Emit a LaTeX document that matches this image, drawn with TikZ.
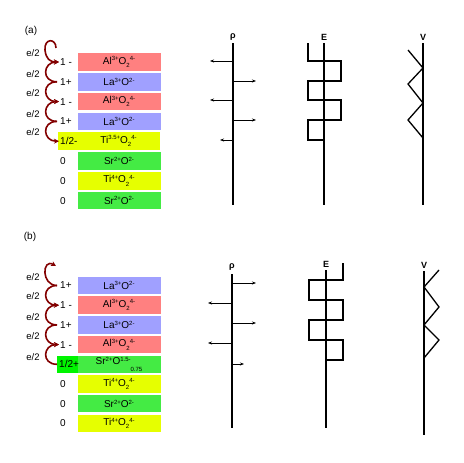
\documentclass[tikz,border=0pt]{standalone}
\usepackage{fontspec}
\setmainfont{Liberation Sans}
\usetikzlibrary{arrows.meta}
\definecolor{boxred}{RGB}{255,128,128}
\definecolor{boxblue}{RGB}{160,160,255}
\definecolor{boxyel}{RGB}{230,255,0}
\definecolor{boxgreen}{RGB}{68,235,68}
\definecolor{brightgreen}{RGB}{0,245,0}
\definecolor{arcred}{RGB}{130,0,0}
\newcommand\upx[1]{\raisebox{0.65ex}{\fontsize{6}{6}\selectfont #1}}
\newcommand\dnx[1]{\raisebox{-0.6ex}{\fontsize{6}{6}\selectfont #1}}
\begin{document}
\begin{tikzpicture}[x=1pt,y=-1pt,
  layer/.style={minimum width=83pt,minimum height=17.5pt,inner sep=0pt,font=\fontsize{10}{10}\selectfont},
  lab/.style={anchor=west,inner sep=0pt,font=\fontsize{10}{10}\selectfont},
  elab/.style={inner sep=0pt,font=\fontsize{9.5}{9.5}\selectfont},
  plab/.style={inner sep=0pt,font=\fontsize{10}{10}\selectfont},
  glab/.style={inner sep=0pt,font=\bfseries\fontsize{9}{9}\selectfont},
  hop/.style={draw=arcred,line width=1.6pt},
  hoptip/.style={hop,-{Stealth[length=5pt,width=5pt]}},
  axisline/.style={line width=1.3pt},
  profile/.style={line width=1.3pt,line join=miter},
  field/.style={line width=1pt,-{Stealth[length=4pt,width=3pt]}}]
\useasboundingbox (0,0) rectangle (463,463);

% ================= (a) =================
\node[plab] (ta) at (31,31) {(a)};
\node[layer,fill=boxred]  (a1) at (119,62)    {Al\upx{3+}O\dnx{2}\upx{4-}};
\node[layer,fill=boxblue] (a2) at (119,81.8)  {La\upx{3+}O\upx{2-}};
\node[layer,fill=boxred]  (a3) at (119,101.6) {Al\upx{3+}O\dnx{2}\upx{4-}};
\node[layer,fill=boxblue] (a4) at (119,121.4) {La\upx{3+}O\upx{2-}};
\node[layer,fill=boxyel,minimum width=102pt] (a5) at (109,141.2) {\hspace{19pt}Ti\upx{3.5+}O\dnx{2}\upx{4-}};
\node[layer,fill=boxgreen] (a6) at (119,161)   {Sr\upx{2+}O\upx{2-}};
\node[layer,fill=boxyel]   (a7) at (119,180.8) {Ti\upx{4+}O\dnx{2}\upx{4-}};
\node[layer,fill=boxgreen] (a8) at (119,200.6) {Sr\upx{2+}O\upx{2-}};

\node[lab] (q1) at (60,62)    {1 -};
\node[lab] (q2) at (60,81.8)  {1+};
\node[lab] (q3) at (60,101.6) {1 -};
\node[lab] (q4) at (60,121.4) {1+};
\node[lab] (q5) at (60,141.2) {1/2-};
\node[lab] (q6) at (60,161)   {0};
\node[lab] (q7) at (60,180.8) {0};
\node[lab] (q8) at (60,200.6) {0};

\node[elab] (e1) at (33,53)  {e/2};
\node[elab] (e2) at (33,74)  {e/2};
\node[elab] (e3) at (33,93)  {e/2};
\node[elab] (e4) at (33,114) {e/2};
\node[elab] (e5) at (33,132) {e/2};

\coordinate (h0) at (56,48);
\coordinate (h1) at (59,62);
\coordinate (h2) at (57,81.8);
\coordinate (h3) at (59,101.6);
\coordinate (h4) at (57,121.4);
\coordinate (h5) at (59,141.2);
\draw[hoptip] (h0) .. controls (56,38) and (44,38) .. (45,50) .. controls (46,59) and (50,62) .. (h1);
\draw[hoptip] (h2) .. controls +(-16,0) and +(-16,0) .. (h1);
\draw[hoptip] (h2) .. controls +(-16,0) and +(-16,0) .. (h3);
\draw[hoptip] (h4) .. controls +(-16,0) and +(-16,0) .. (h3);
\draw[hoptip] (h4) .. controls +(-16,0) and +(-16,0) .. (h5);

% rho (a)
\node[glab] (rhoa) at (233,37) {ρ};
\coordinate (ra0) at (233,43);
\coordinate (ra9) at (233,205);
\draw[axisline] (ra0) -- (ra9);
\coordinate (ra1) at (233,61);  \coordinate (rb1) at (210,61);
\coordinate (ra2) at (233,81);  \coordinate (rb2) at (256,81);
\coordinate (ra3) at (233,100); \coordinate (rb3) at (210,100);
\coordinate (ra4) at (233,120); \coordinate (rb4) at (256,120);
\coordinate (ra5) at (233,140); \coordinate (rb5) at (220,140);
\foreach \i in {1,...,5} \draw[field] (ra\i) -- (rb\i);

% E (a)
\node[glab] (Ea) at (324,37) {E};
\coordinate (ea0) at (324,43);
\coordinate (ea9) at (324,205);
\draw[axisline] (ea0) -- (ea9);
\coordinate (es) at (308,43);
\coordinate (ee) at (324,140);
\draw[profile] (es) -- (308,61) -- (341,61) -- (341,81) -- (308,81) -- (308,100) -- (341,100) -- (341,120) -- (308,120) -- (308,140) -- (ee);

% V (a)
\node[glab] (Va) at (423,37) {V};
\coordinate (va0) at (423,43);
\coordinate (va9) at (423,205);
\draw[axisline] (va0) -- (va9);
\coordinate (vs) at (408,50);
\coordinate (ve) at (423,138);
\draw[profile] (vs) -- (423,68) -- (408,84) -- (423,103) -- (408,120) -- (ve);

% ================= (b) =================
\node[plab] (tb) at (30,237) {(b)};
\node[layer,fill=boxblue] (b1) at (119,285.5) {La\upx{3+}O\upx{2-}};
\node[layer,fill=boxred]  (b2) at (119,305.2) {Al\upx{3+}O\dnx{2}\upx{4-}};
\node[layer,fill=boxblue] (b3) at (119,324.9) {La\upx{3+}O\upx{2-}};
\node[layer,fill=boxred]  (b4) at (119,344.6) {Al\upx{3+}O\dnx{2}\upx{4-}};
\node[layer,fill=boxgreen] (b5) at (119,364.3) {Sr\upx{2+}O\upx{1.5-}\raisebox{-1.3ex}{\fontsize{6}{6}\selectfont 0.75}};
\node[layer,fill=brightgreen,minimum width=21pt,anchor=east] (b5g) at (78,364.3) {};
\node[layer,fill=boxyel]   (b6) at (119,384) {Ti\upx{4+}O\dnx{2}\upx{4-}};
\node[layer,fill=boxgreen] (b7) at (119,403.7) {Sr\upx{2+}O\upx{2-}};
\node[layer,fill=boxyel]   (b8) at (119,423.4) {Ti\upx{4+}O\dnx{2}\upx{4-}};

\node[lab] (p1) at (60,285.5) {1+};
\node[lab] (p2) at (60,305.2) {1 -};
\node[lab] (p3) at (60,324.9) {1+};
\node[lab] (p4) at (60,344.6) {1 -};
\node[lab] (p5) at (59,364.3) {1/2+};
\node[lab] (p6) at (60,384)   {0};
\node[lab] (p7) at (60,403.7) {0};
\node[lab] (p8) at (60,423.4) {0};

\node[elab] (f1) at (33,277) {e/2};
\node[elab] (f2) at (33,296) {e/2};
\node[elab] (f3) at (33,317) {e/2};
\node[elab] (f4) at (33,336) {e/2};
\node[elab] (f5) at (33,357) {e/2};

\coordinate (k0) at (56,266);
\coordinate (k1) at (57,285.5);
\coordinate (k2) at (59,305.2);
\coordinate (k3) at (57,324.9);
\coordinate (k4) at (59,344.6);
\coordinate (k5) at (57,364.3);
\draw[hoptip] (k1) .. controls (41,285.5) and (42,258) .. (k0);
\draw[hoptip] (k1) .. controls +(-16,0) and +(-16,0) .. (k2);
\draw[hoptip] (k3) .. controls +(-16,0) and +(-16,0) .. (k2);
\draw[hoptip] (k3) .. controls +(-16,0) and +(-16,0) .. (k4);
\draw[hoptip] (k5) .. controls +(-16,0) and +(-16,0) .. (k4);

% rho (b)
\node[glab] (rhob) at (232,267) {ρ};
\coordinate (sa0) at (232,274);
\coordinate (sa9) at (232,428);
\draw[axisline] (sa0) -- (sa9);
\coordinate (sa1) at (232,283); \coordinate (sb1) at (256,283);
\coordinate (sa2) at (232,303); \coordinate (sb2) at (208,303);
\coordinate (sa3) at (232,323); \coordinate (sb3) at (256,323);
\coordinate (sa4) at (232,343); \coordinate (sb4) at (208,343);
\coordinate (sa5) at (232,364); \coordinate (sb5) at (244,364);
\foreach \i in {1,...,5} \draw[field] (sa\i) -- (sb\i);

% E (b)
\node[glab] (Eb) at (326,264) {E};
\coordinate (fa0) at (326,270);
\coordinate (fa9) at (326,428);
\draw[axisline] (fa0) -- (fa9);
\coordinate (fs) at (343,263);
\coordinate (fe) at (326,360);
\draw[profile] (fs) -- (343,280) -- (309,280) -- (309,300) -- (343,300) -- (343,320) -- (309,320) -- (309,340) -- (343,340) -- (343,360) -- (fe);

% V (b)
\node[glab] (Vb) at (424,265) {V};
\coordinate (wa0) at (424,271);
\coordinate (wa9) at (424,435);
\draw[axisline] (wa0) -- (wa9);
\coordinate (ws) at (439,270);
\coordinate (we) at (424,358);
\draw[profile] (ws) -- (424,287) -- (439,307) -- (424,325) -- (439,340) -- (we);
\end{tikzpicture}
\end{document}
